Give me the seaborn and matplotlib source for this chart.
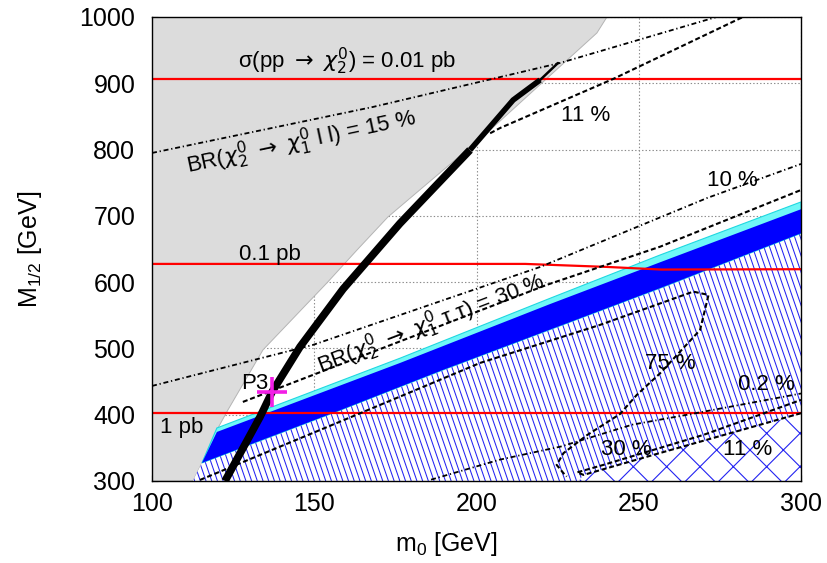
import numpy as np
import pandas as pd
import matplotlib
matplotlib.use('Agg')
import matplotlib.pyplot as plt
import seaborn as sns
from matplotlib.patches import Polygon
from matplotlib.collections import LineCollection


# axes
m0_ticks = [100, 150, 200, 250, 300]
M_ticks = [300, 400, 500, 600, 700, 800, 900, 1000]

# excluded (grey) region boundary
excl_m0 = [112.6, 115.4, 120.0, 123.4, 134.2, 153.9, 163.2, 172.7, 203.2, 237.1, 240.2]
excl_M = [300, 327.3, 377.1, 407.2, 497.8, 598.8, 648.6, 698.3, 825.0, 975.9, 1000]

# black band: thick lower part, thinner upper part, thin tail
band_m0 = [122.5, 133.3, 137.0, 145.6, 158.9, 176.4, 198.0]
band_M = [300, 396.7, 434.4, 502.3, 589.7, 688.5, 799.4]
upper_m0 = [198.0, 211.3, 219.6]
upper_M = [799.4, 874.8, 905.0]
tail_m0 = [219.6, 225.1]
tail_M = [905.0, 930.6]

# cyan / blue strips
cyan_m0 = [120.0, 176.4, 222.7, 256.6, 300]
cyan_M = [380, 485.2, 575.7, 641, 721]
blue_top_m0 = [120.0, 176.4, 222.7, 256.6, 300]
blue_top_M = [374, 478, 567, 630, 710]
blue_bot_m0 = [115.4, 156.9, 189.7, 256.6, 300]
blue_bot_M = [327.3, 404.7, 467.6, 591, 673.7]

# cross-hatched corner (upper edge)
cross_m0 = [231.5, 233.0, 254.5, 300]
cross_M = [300, 309.2, 339.4, 401]

# cross-section lines (red)
sig001_m0 = [100, 300]
sig001_M = [906.5, 906.5]
sig01_m0 = [100, 215, 240, 257, 300]
sig01_M = [627.5, 627.5, 623, 619, 619.5]
sig1_m0 = [100, 300]
sig1_M = [403, 403]

# BR(chi2 -> chi1 l l) contours (dash-dot)
ll15_m0 = [100, 168.1, 225.7, 272.9, 276]
ll15_M = [794.9, 864.3, 930.6, 998.5, 1003]
ll10_m0 = [100, 149.6, 219.6, 271.1, 300]
ll10_M = [443.4, 505.3, 622.9, 727, 778.3]
ll02_m0 = [186, 207, 226, 248, 265, 300]
ll02_M = [302, 332, 352, 385, 400, 432]

# BR(chi2 -> chi1 tau tau) contours (dashed)
tt11_m0 = [204.2, 207.3, 242.1, 282.1]
tt11_M = [824.6, 832.6, 906.5, 1000]
tt30_m0 = [128.0, 221.6, 256.6, 300]
tt30_M = [419.3, 595.8, 653.5, 739]
tt75_m0 = [114.8, 157.0, 176.4, 201.1, 238.0, 266.8, 271.5, 268.9, 256.6, 249.4,
           244.2, 234.0, 226.8, 224.7, 226.8, 227.8]
tt75_M = [301.6, 387.6, 427.3, 478.1, 535.4, 585.7, 580.7, 527.9, 462.6, 429.9,
          401.0, 369.0, 342.0, 324.3, 311.8, 306.7]
tt30b_m0 = [300, 254.5, 233.0, 231.0, 239.1, 269.9, 300]
tt30b_M = [402.3, 339.4, 309.2, 313.0, 324.3, 369.5, 422.3]

# benchmark point
p3_m0 = [137.0]
p3_M = [434.0]

# labels
label_text = [r'σ(pp $\rightarrow$ $\chi_2^0$) = 0.01 pb',
              r'BR($\chi_2^0$ $\rightarrow$ $\chi_1^0$ l l) = 15 %',
              '11 %', '10 %', '0.1 pb',
              r'BR($\chi_2^0$ $\rightarrow$ $\chi_1^0$ τ τ) = 30 %',
              'P3', '1 pb', '75 %', '0.2 %', '30 %', '11 %']
label_m0 = [160.0, 145.9, 233.5, 278.7, 136.4, 186.1, 131.7, 109.2, 259.6, 289.2, 246.3, 283.5]
label_M = [933.0, 810.7, 852.0, 752.6, 641.0, 536.0, 447.5, 380.8, 478.0, 445.0, 347.0, 347.0]
label_rot = [0, 12, 0, 0, 0, 21, 0, 0, 0, 0, 0, 0]


sns.set_theme(style='white')
plt.rcParams['font.family'] = ['Liberation Sans', 'DejaVu Sans']
plt.rcParams['mathtext.fontset'] = 'custom'
plt.rcParams['mathtext.rm'] = 'Liberation Sans'
plt.rcParams['mathtext.it'] = 'Liberation Sans:italic'
plt.rcParams['mathtext.sf'] = 'Liberation Sans'
plt.rcParams['mathtext.bf'] = 'Liberation Sans:bold'
plt.rcParams['hatch.linewidth'] = 0.8
plt.rcParams['lines.scale_dashes'] = False
for key in ['text.color', 'axes.labelcolor', 'xtick.color', 'ytick.color']:
    plt.rcParams[key] = 'black'

DASHED = (0, (3.6, 2.0))
DASHDOT = (0, (3.6, 2.0, 0.9, 2.0))
HATCH_BLUE = '#2323f2'


def DrawLine(ax, xs, ys, style='-', color='black', lw=1.3, z=3, **kw):
    sns.lineplot(x=xs, y=ys, ax=ax, sort=False, estimator=None, color=color,
                 linewidth=lw, linestyle=style, zorder=z, **kw)


def AddSteepHatch(ax, patch, angle=71, spacing_px=5.7):
    # hatch lines at a steeper angle than mpl's built-in '\\'
    bbox = ax.get_position()
    fig = ax.figure
    w_px = bbox.width * fig.get_figwidth() * fig.dpi
    h_px = bbox.height * fig.get_figheight() * fig.dpi
    shift = (h_px / np.tan(np.radians(angle))) / w_px
    starts = np.arange(-0.4, 1.05, spacing_px / w_px)
    segs = [[(s, 1.0), (s + shift, 0.0)] for s in starts]
    lc = LineCollection(segs, colors=HATCH_BLUE, linewidths=0.75,
                        transform=ax.transAxes, zorder=1.6)
    lc.set_clip_path(patch)
    ax.add_collection(lc, autolim=False)


fig = plt.figure(figsize=(8.28, 5.63), dpi=100)
ax = fig.add_axes([152 / 828, 82 / 563, 649 / 828, 464 / 563])

# grey excluded region
grey_verts = [(100, 300)] + list(zip(excl_m0, excl_M)) + [(100, 1000)]
ax.add_patch(Polygon(grey_verts, closed=True, facecolor='#dcdcdc',
                     edgecolor='#b4b4b4', linewidth=0.7, zorder=1))

# hatched region below the blue strip
hatch_verts = ([(excl_m0[0], excl_M[0])] + list(zip(blue_bot_m0, blue_bot_M))
               + list(zip(cross_m0[::-1], cross_M[::-1])))
hatch_patch = Polygon(hatch_verts, closed=True, facecolor='white',
                      edgecolor='none', zorder=1.5)
ax.add_patch(hatch_patch)
AddSteepHatch(ax, hatch_patch)

# cross-hatched corner
cross_verts = list(zip(cross_m0, cross_M)) + [(300, 300)]
ax.add_patch(Polygon(cross_verts, closed=True, facecolor='white',
                     edgecolor=HATCH_BLUE, linewidth=0, hatch='x', zorder=1.5))

# cyan and blue strips
cyan_verts = list(zip(cyan_m0, cyan_M)) + list(zip(blue_bot_m0[::-1], blue_bot_M[::-1]))
ax.add_patch(Polygon(cyan_verts, closed=True, facecolor='#6ff7f7',
                     edgecolor='#1fd8e0', linewidth=0.8, zorder=2))
blue_verts = list(zip(blue_top_m0, blue_top_M)) + list(zip(blue_bot_m0[::-1], blue_bot_M[::-1]))
ax.add_patch(Polygon(blue_verts, closed=True, facecolor='#0000ff',
                     edgecolor='none', zorder=2.1))

# cross-section lines
for xs, ys in [(sig001_m0, sig001_M), (sig01_m0, sig01_M), (sig1_m0, sig1_M)]:
    DrawLine(ax, xs, ys, '-', color='#ff0000', lw=1.6, z=3)

# branching ratio contours
for xs, ys in [(ll15_m0, ll15_M), (ll10_m0, ll10_M), (ll02_m0, ll02_M)]:
    DrawLine(ax, xs, ys, DASHDOT, lw=1.3, z=3.2)
for xs, ys in [(tt11_m0, tt11_M), (tt30_m0, tt30_M), (tt75_m0, tt75_M), (tt30b_m0, tt30b_M)]:
    DrawLine(ax, xs, ys, DASHED, lw=1.5, z=3.2)

# black band
DrawLine(ax, band_m0, band_M, '-', lw=5.5, z=4, solid_capstyle='butt', solid_joinstyle='round')
DrawLine(ax, upper_m0, upper_M, '-', lw=4.0, z=4, solid_capstyle='butt', solid_joinstyle='round')
DrawLine(ax, tail_m0, tail_M, '-', lw=1.8, z=4)

# benchmark point
ax.plot(p3_m0, p3_M, marker='+', markersize=22, markeredgewidth=2.6,
        color='#f21ee6', linestyle='none', zorder=5)

for txt, x, y, rot in zip(label_text, label_m0, label_M, label_rot):
    # labels with arrows use DejaVu math so the arrow has a normal size
    mf = 'dejavusans' if 'rightarrow' in txt else 'custom'
    ax.text(x, y, txt, fontsize=16, ha='center', va='center', rotation=rot,
            rotation_mode='anchor', zorder=6, math_fontfamily=mf)

ax.set_xlim(100, 300)
ax.set_ylim(300, 1000)
ax.set_xticks(m0_ticks)
ax.set_yticks(M_ticks)
ax.set_axisbelow(True)
ax.grid(True, linestyle=(0, (1, 1.5)), color='#8c8c8c', linewidth=0.8)
ax.tick_params(axis='both', direction='in', length=4, width=0.8, labelsize=18,
               bottom=True, left=True, colors='black')
ax.tick_params(axis='x', pad=8)
ax.tick_params(axis='y', pad=12)
for sp in ax.spines.values():
    sp.set_color('black')
    sp.set_linewidth(1.0)
    sp.set_zorder(7)

ax.set_xlabel('m$_0$ [GeV]', fontsize=18)
ax.set_ylabel('M$_{1/2}$ [GeV]', fontsize=18)
ax.xaxis.set_label_coords(0.454, -0.105)
ax.yaxis.set_label_coords(-0.167, 0.5)

fig.savefig('out.png', dpi=100)
